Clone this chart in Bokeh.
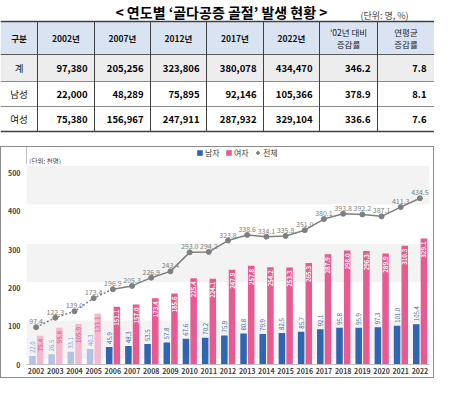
import math
from bokeh.plotting import figure
from bokeh.models import (ColumnDataSource, Range1d, FactorRange, FixedTicker,
                          Legend, LegendItem, BoxAnnotation)
from bokeh.transform import dodge
from bokeh.layouts import column
from bokeh.embed import file_html
from bokeh.resources import INLINE
from bokeh.core.properties import value

# ---------------- data ----------------
title_text = "< 연도별 ‘골다공증 골절’ 발생 현황 >"
unit_text = "(단위: 명, %)"

tbl_header = ["구분", "2002년", "2007년", "2012년", "2017년", "2022년", "'02년 대비\n증감률", "연평균\n증감률"]
tbl_rows = ["계", "남성", "여성"]
tbl_total = [97380, 205256, 323806, 380078, 434470]
tbl_male = [22000, 48289, 75895, 92146, 105366]
tbl_female = [75380, 156967, 247911, 287932, 329104]
tbl_vs02 = [346.2, 378.9, 336.6]
tbl_annual = [7.8, 8.1, 7.6]

years = [str(y) for y in range(2002, 2023)]
male = [22.0, 26.5, 33.1, 40.3, 45.9, 48.3, 53.5, 57.8, 67.6, 70.2, 75.9,
        80.8, 79.9, 82.5, 85.7, 92.1, 95.8, 95.9, 97.3, 101.0, 105.4]
female = [75.4, 95.8, 105.9, 133.1, 151.1, 157.0, 173.4, 185.6, 225.4, 224.1, 247.9,
          257.8, 254.2, 253.3, 265.3, 287.9, 298.0, 296.3, 289.9, 310.3, 329.1]
total = [97.4, 122.3, 139.0, 173.4, 196.9, 205.3, 226.9, 243.4, 293.0, 294.2, 323.8,
         338.6, 334.1, 335.8, 351.0, 380.1, 393.8, 392.2, 387.1, 411.3, 434.5]
series_names = ["남자", "여자", "전체"]
chart_unit = "(단위: 천명)"
y_ticks = [0, 100, 200, 300, 400, 500]

N_LIGHT = 4  # 2002-2005 drawn in pale colours

FONT = "Noto Sans CJK KR"
C_MALE, C_MALE_L = "#2E66B1", "#B4C2E6"
C_FEM, C_FEM_L = "#E85A90", "#F6BAD0"
C_TOT = "#7F7F7F"

# ---------------- table figure ----------------
TW, TH = 434, 146
tp = figure(width=TW, height=TH, x_range=Range1d(0, TW), y_range=Range1d(TH, 0),
            toolbar_location=None, output_backend="svg", min_border=0,
            x_axis_type=None, y_axis_type=None, outline_line_color=None,
            background_fill_color="white", border_fill_color="white")
tp.grid.visible = False

col_w = [37, 57, 56, 56, 57, 56, 58, 57]
xe = [0]
for w in col_w:
    xe.append(xe[-1] + w)
row_h = [33, 27, 25, 25]
ye = [21]
for h in row_h:
    ye.append(ye[-1] + h)

tp.text(x=[TW / 2 + 4], y=[11], text=[title_text], text_font=value(FONT),
        text_font_size="14px", text_font_style="bold", text_align="center",
        text_baseline="middle", text_color="#000000")
tp.text(x=[384], y=[15], text=[unit_text], text_font=value(FONT),
        text_font_size="9px", text_align="center", text_baseline="middle",
        text_color="#404040")

tp.quad(left=[0, 0], right=[TW, TW], top=[ye[0], ye[1]], bottom=[ye[1], ye[2]],
        fill_color=["#DAE3F1", "#EDEDED"], line_color=None)

tp.segment(x0=[0] * 5, x1=[TW] * 5, y0=ye, y1=ye,
           line_color=["#404040", "#595959", "#8C8C8C", "#8C8C8C", "#404040"],
           line_width=[1.5, 1, 1, 1, 1.5])
tp.segment(x0=xe[1:-1], x1=xe[1:-1], y0=[ye[0]] * (len(xe) - 2), y1=[ye[-1]] * (len(xe) - 2),
           line_color="#404040", line_width=1)

hx, hy, ht, hb = [], [], [], []
for i, h in enumerate(tbl_header):
    lines = h.split("\n")
    cx = (xe[i] + xe[i + 1]) / 2
    cy = (ye[0] + ye[1]) / 2
    n = len(lines)
    for j, ln in enumerate(lines):
        hx.append(cx)
        hy.append(cy + (j - (n - 1) / 2) * 12)
        ht.append(ln)
        hb.append(n == 1)
tp.text(x=[x for x, b in zip(hx, hb) if b], y=[y for y, b in zip(hy, hb) if b],
        text=[t for t, b in zip(ht, hb) if b], text_font=value(FONT), text_font_size="8.5px",
        text_font_style="bold", text_align="center", text_baseline="middle", text_color="#111111")
tp.text(x=[x for x, b in zip(hx, hb) if not b], y=[y for y, b in zip(hy, hb) if not b],
        text=[t for t, b in zip(ht, hb) if not b], text_font=value(FONT), text_font_size="8.5px",
        text_align="center", text_baseline="middle", text_color="#222222")

rcy = [(ye[k] + ye[k + 1]) / 2 for k in range(1, 4)]
tp.text(x=[(xe[0] + xe[1]) / 2] * 3, y=rcy, text=tbl_rows, text_font=value(FONT),
        text_font_size="9.5px", text_align="center", text_baseline="middle", text_color="#111111")

nx, ny, nt = [], [], []
for r, vals in enumerate([tbl_total, tbl_male, tbl_female]):
    for c, v in enumerate(vals):
        nx.append(xe[c + 2] - 7)
        ny.append(rcy[r])
        nt.append(f"{v:,}")
    nx.append(xe[7] - 7); ny.append(rcy[r]); nt.append(f"{tbl_vs02[r]:.1f}")
    nx.append(xe[8] - 8); ny.append(rcy[r]); nt.append(f"{tbl_annual[r]:.1f}")
tp.text(x=nx, y=ny, text=nt, text_font=value(FONT), text_font_size="9.5px",
        text_font_style="bold", text_align="right", text_baseline="middle", text_color="#000000")

# ---------------- chart header strip (legend + unit) ----------------
HH = 18
hdr = figure(width=TW, height=HH, x_range=Range1d(0, TW), y_range=Range1d(HH, 0),
             toolbar_location=None, output_backend="svg", min_border=0,
             x_axis_type=None, y_axis_type=None, outline_line_color=None,
             background_fill_alpha=0, border_fill_alpha=0)
hdr.grid.visible = False
hdr.text(x=[3], y=[14], text=[chart_unit], text_font=value(FONT), text_font_size="6.5px",
         text_baseline="middle", text_color="#404040")
# legend key renderers (one point each, placed outside the strip's visible range)
k_m = hdr.vbar(x=[-100], top=[male[-1]], width=1, fill_color=C_MALE, line_color=None)
k_f = hdr.vbar(x=[-100], top=[female[-1]], width=1, fill_color=C_FEM, line_color=None)
k_t = hdr.scatter(x=[-100], y=[total[-1]], size=6, fill_color=C_TOT, line_color=C_TOT)
legend = Legend(items=[LegendItem(label=series_names[0], renderers=[k_m]),
                       LegendItem(label=series_names[1], renderers=[k_f]),
                       LegendItem(label=series_names[2], renderers=[k_t])],
                location=(170, 6), orientation="horizontal",
                label_text_font=FONT, label_text_font_size="8px", label_text_color="#404040",
                glyph_width=7, glyph_height=7, label_standoff=2, spacing=4,
                label_width=16, padding=0, margin=0, border_line_alpha=0,
                background_fill_alpha=0, label_height=9)
hdr.add_layout(legend)

# ---------------- chart figure ----------------
CH = 214
YMAX = 520
cp = figure(width=TW, height=CH, x_range=FactorRange(*years), y_range=Range1d(0, YMAX),
            toolbar_location=None, output_backend="svg",
            min_border_top=1, min_border_bottom=14, min_border_left=26, min_border_right=5,
            outline_line_color=None, background_fill_color="white", border_fill_alpha=0)
cp.xgrid.visible = False
cp.ygrid.visible = False

for b0, b1 in [(15, 115), (215, 315), (418, YMAX)]:
    cp.add_layout(BoxAnnotation(bottom=b0, top=b1, fill_color="#F3F3F3", fill_alpha=1,
                                line_alpha=0, level="underlay"))

def src(sl):
    return ColumnDataSource(dict(year=years[sl], male=male[sl], female=female[sl],
                                 ml=[f"{v:.1f}" for v in male[sl]],
                                 fl=[f"{v:.1f}" for v in female[sl]]))

src_l = src(slice(0, N_LIGHT))
src_d = src(slice(N_LIGHT, None))

MOFF, FOFF, BW = -0.19, 0.21, 0.34
cp.vbar(x=dodge("year", MOFF, range=cp.x_range), top="male", width=BW, source=src_l,
        fill_color=C_MALE_L, line_color=None)
cp.vbar(x=dodge("year", MOFF, range=cp.x_range), top="male", width=BW, source=src_d,
        fill_color=C_MALE, line_color=None)
cp.vbar(x=dodge("year", FOFF, range=cp.x_range), top="female", width=BW, source=src_l,
        fill_color=C_FEM_L, line_color=None)
cp.vbar(x=dodge("year", FOFF, range=cp.x_range), top="female", width=BW, source=src_d,
        fill_color=C_FEM, line_color=None)

ang = math.pi / 2
for s, mc, fc in [(src_l, "#7F9BD6", "#E0709A"), (src_d, "#2E5FA8", "#FFFFFF")]:
    cp.text(x=dodge("year", MOFF, range=cp.x_range), y="male", text="ml", source=s, angle=ang,
            text_align="left", text_baseline="middle", y_offset=-3, text_font=value(FONT),
            text_font_size="6px", text_color=mc)
    cp.text(x=dodge("year", FOFF, range=cp.x_range), y="female", text="fl", source=s, angle=ang,
            text_align="right", text_baseline="middle", y_offset=3, text_font=value(FONT),
            text_font_size="6px", text_font_style="bold", text_color=fc)

cp.line(years[:N_LIGHT + 1], total[:N_LIGHT + 1], line_color=C_TOT, line_width=1.5,
        line_dash="2 2")
cp.line(years[N_LIGHT:], total[N_LIGHT:], line_color=C_TOT, line_width=1.5)
cp.scatter(years, total, size=5, fill_color=C_TOT, line_color=C_TOT)
cp.text(x=years, y=total, text=[f"{v:.1f}" for v in total], text_align="center",
        text_baseline="bottom", y_offset=-3, text_font=value(FONT), text_font_size="7px",
        text_color=C_TOT)

cp.xaxis.axis_line_color = "#BFBFBF"
cp.xaxis.major_tick_line_color = None
cp.xaxis.major_tick_out = 0
cp.xaxis.major_tick_in = 0
cp.xaxis.major_label_text_font = FONT
cp.xaxis.major_label_text_font_size = "7px"
cp.xaxis.major_label_text_font_style = "bold"
cp.xaxis.major_label_text_color = "#404040"
cp.xaxis.major_label_standoff = 3
cp.yaxis.ticker = FixedTicker(ticks=y_ticks)
cp.yaxis.axis_line_color = None
cp.yaxis.major_tick_line_color = None
cp.yaxis.minor_tick_line_color = None
cp.yaxis.major_tick_out = 0
cp.yaxis.major_tick_in = 0
cp.yaxis.minor_tick_out = 0
cp.yaxis.major_label_text_font = FONT
cp.yaxis.major_label_text_font_size = "7px"
cp.yaxis.major_label_text_font_style = "bold"
cp.yaxis.major_label_text_color = "#404040"
cp.yaxis.major_label_standoff = 6

chart_box = column(hdr, cp, spacing=0,
                   styles={"box-shadow": "inset 0 0 0 1px #8C8C8C"})
layout = column(tp, chart_box, spacing=0)
open("out.html", "w").write(file_html(layout, INLINE))
